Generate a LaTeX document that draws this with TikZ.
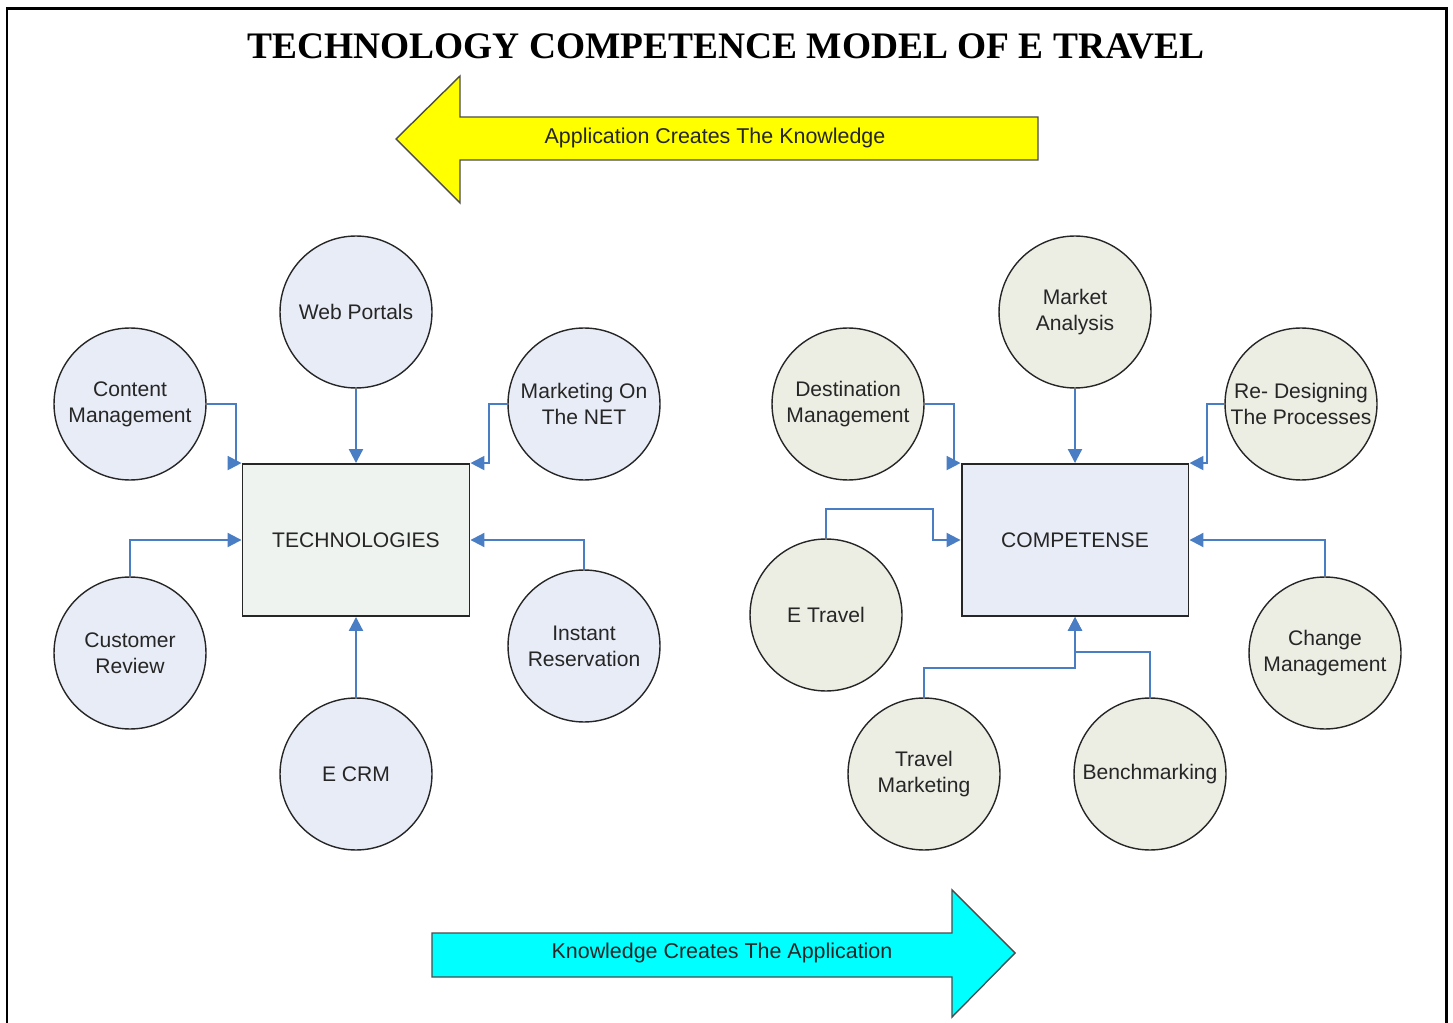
\documentclass[tikz,border=0pt]{standalone}
\usepackage{fontspec}
\setmainfont{Liberation Sans}
\newfontfamily\titlefont{Liberation Serif}
\usetikzlibrary{arrows.meta}

\definecolor{linkblue}{RGB}{74,126,196}
\definecolor{techfill}{RGB}{232,236,246}
\definecolor{compfill}{RGB}{236,238,228}
\definecolor{boxgreen}{RGB}{239,243,239}
\definecolor{arrowyellow}{RGB}{255,255,0}
\definecolor{arrowcyan}{RGB}{0,255,255}

\begin{document}
\begin{tikzpicture}[
    x=0.02cm, y=-0.02cm,
    blob/.style={draw=black!85, circle, line width=0.8pt, minimum size=3.04cm,
                 inner sep=0pt, align=center, text=black!85,
                 font=\fontsize{12}{14.8}\selectfont},
    techblob/.style={blob, fill=techfill},
    compblob/.style={blob, fill=compfill},
    core/.style={draw=black!85, rectangle, line width=1.1pt, minimum width=4.54cm,
                 minimum height=3.04cm, text=black!85, font=\fontsize{12}{14.8}\selectfont},
    link/.style={draw=linkblue, line width=1.2pt, -{Triangle[length=2.8mm,width=2.8mm]}},
    bigarrow/.style={draw=black!70, line width=0.8pt, line join=miter},
    banner/.style={text=black!85, font=\fontsize{12.2}{14}\selectfont}
]

\useasboundingbox (0,0) rectangle (1453,1023);

% Frame
\draw[line width=1.7pt] (7,1023) |- (1446,9) -- (1446,1023);

% Title
\node[font=\titlefont\bfseries\fontsize{21.3}{26}\selectfont] (title) at (726,46)
    {TECHNOLOGY COMPETENCE MODEL OF E TRAVEL};

% Upper arrow (pointing left)
\draw[bigarrow, fill=arrowyellow] (1038,117) -- (460,117) -- (460,76) -- (396,139)
    -- (460,203) -- (460,160) -- (1038,160) -- cycle;
\node[banner] (knowl) at (715,138) {Application Creates The Knowledge};

% Lower arrow (pointing right)
\draw[bigarrow, fill=arrowcyan] (432,933) -- (952,933) -- (952,890) -- (1015,953)
    -- (952,1017) -- (952,977) -- (432,977) -- cycle;
\node[banner] (appl) at (722,953) {Knowledge Creates The Application};

% Technologies side
\node[core, fill=boxgreen] (tech) at (356,540) {TECHNOLOGIES};
\node[techblob] (wp)   at (356,312) {Web Portals};
\node[techblob] (cm)   at (130,404) {Content\\Management};
\node[techblob] (mn)   at (584,404) {Marketing On\\The NET};
\node[techblob] (cr)   at (130,653) {Customer\\Review};
\node[techblob] (ir)   at (584,646) {Instant\\Reservation};
\node[techblob] (ecrm) at (356,774) {E CRM};

\draw[link] (cm.east) -- ++(29,0) |- (tech.north west);
\draw[link] (wp.south) -- (tech.north);
\draw[link] (mn.west) -- ++(-18,0) |- (tech.north east);
\draw[link] (cr.north) |- (tech.west);
\draw[link] (ir.north) |- (tech.east);
\draw[link] (ecrm.north) -- (tech.south);

% Competense side
\node[core, fill=techfill] (comp) at (1075,540) {COMPETENSE};
\node[compblob] (ma)  at (1075,312) {Market\\Analysis};
\node[compblob] (dm)  at (848,404)  {Destination\\Management};
\node[compblob] (rd)  at (1301,404) {Re- Designing\\The Processes};
\node[compblob] (et)  at (826,615)  {E Travel};
\node[compblob] (chm) at (1325,653) {Change\\Management};
\node[compblob] (tm)  at (924,774)  {Travel\\Marketing};
\node[compblob] (bm)  at (1150,774) {Benchmarking};

\draw[link] (dm.east) -- ++(29,0) |- (comp.north west);
\draw[link] (ma.south) -- (comp.north);
\draw[link] (rd.west) -- ++(-17,0) |- (comp.north east);
\draw[link] (et.north) -- ++(0,-29) -- ++(107,0) |- (comp.west);
\draw[link] (chm.north) |- (comp.east);
\draw[link] (tm.north) -- ++(0,-29) -| (comp.south);
\draw[link] (bm.north) -- ++(0,-45) -| (comp.south);

\end{tikzpicture}
\end{document}
